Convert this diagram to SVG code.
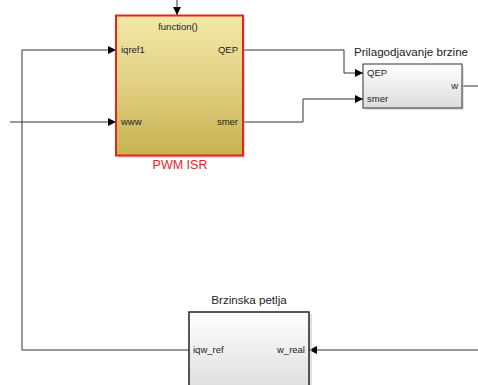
<svg xmlns="http://www.w3.org/2000/svg" width="478" height="385" viewBox="0 0 478 385">
<defs>
<linearGradient id="gy" x1="0" y1="0" x2="0" y2="1">
<stop offset="0" stop-color="#f3e8a6"/>
<stop offset="0.45" stop-color="#e3d287"/>
<stop offset="1" stop-color="#c6b24e"/>
</linearGradient>
<linearGradient id="gw" x1="0" y1="0" x2="0" y2="1">
<stop offset="0" stop-color="#ffffff"/>
<stop offset="1" stop-color="#dcdcdc"/>
</linearGradient>
<marker id="ah" viewBox="0 0 10 10" refX="10" refY="5" markerWidth="8" markerHeight="8" markerUnits="userSpaceOnUse" orient="auto">
<path d="M0,0 L10,5 L0,10 z" fill="#000"/>
</marker>
</defs>
<style>
.t{font-family:"Liberation Sans",Arial,sans-serif;font-size:9.5px;fill:#222}
.ti{font-family:"Liberation Sans",Arial,sans-serif;font-size:11.6px;fill:#222}
.ln{fill:none;stroke:#333;stroke-width:1}
</style>
<rect width="478" height="385" fill="#fff"/>
<g id="connectors">
<path class="ln" d="M177,0 V15" marker-end="url(#ah)"/>
<path class="ln" d="M189,350 H22 V50 H116" marker-end="url(#ah)"/>
<path class="ln" d="M10,122 H116" marker-end="url(#ah)"/>
<path class="ln" d="M243,50 H344 V73 H363" marker-end="url(#ah)"/>
<path class="ln" d="M243,122 H303 V99 H363" marker-end="url(#ah)"/>
<path class="ln" d="M462,86 H478"/>
<path class="ln" d="M478,350 H309" marker-end="url(#ah)"/>
</g>
<g id="pwm-isr">
<rect x="118" y="17" width="127" height="141" fill="#bbb" opacity="0.5"/>
<rect x="116" y="15.5" width="127" height="140" fill="url(#gy)" stroke="#e8231f" stroke-width="2"/>
<text class="t" x="178" y="30" text-anchor="middle">function()</text>
<text class="t" x="121" y="53">iqref1</text>
<text class="t" x="121" y="125">www</text>
<text class="t" x="238" y="53" text-anchor="end">QEP</text>
<text class="t" x="238" y="125" text-anchor="end">smer</text>
<text class="ti" x="180" y="169" text-anchor="middle" style="fill:#e8231f;font-size:12.5px">PWM ISR</text>
</g>
<g id="prilagodjavanje">
<rect x="365" y="66" width="99" height="44" fill="#ccc" opacity="0.6"/>
<rect x="363" y="64" width="99" height="44" fill="url(#gw)" stroke="#333" stroke-width="1"/>
<text class="t" x="367" y="76">QEP</text>
<text class="t" x="367" y="102">smer</text>
<text class="t" x="458" y="89" text-anchor="end">w</text>
<text class="ti" x="411" y="56" text-anchor="middle">Prilagodjavanje brzine</text>
</g>
<g id="brzinska-petlja">
<rect x="191" y="314" width="121" height="80" fill="#ccc" opacity="0.6"/>
<rect x="189" y="312" width="120" height="80" fill="url(#gw)" stroke="#222" stroke-width="1.5"/>
<text class="t" x="193" y="353">iqw_ref</text>
<text class="t" x="305" y="353" text-anchor="end">w_real</text>
<text class="ti" x="249" y="304" text-anchor="middle">Brzinska petlja</text>
</g>
</svg>
